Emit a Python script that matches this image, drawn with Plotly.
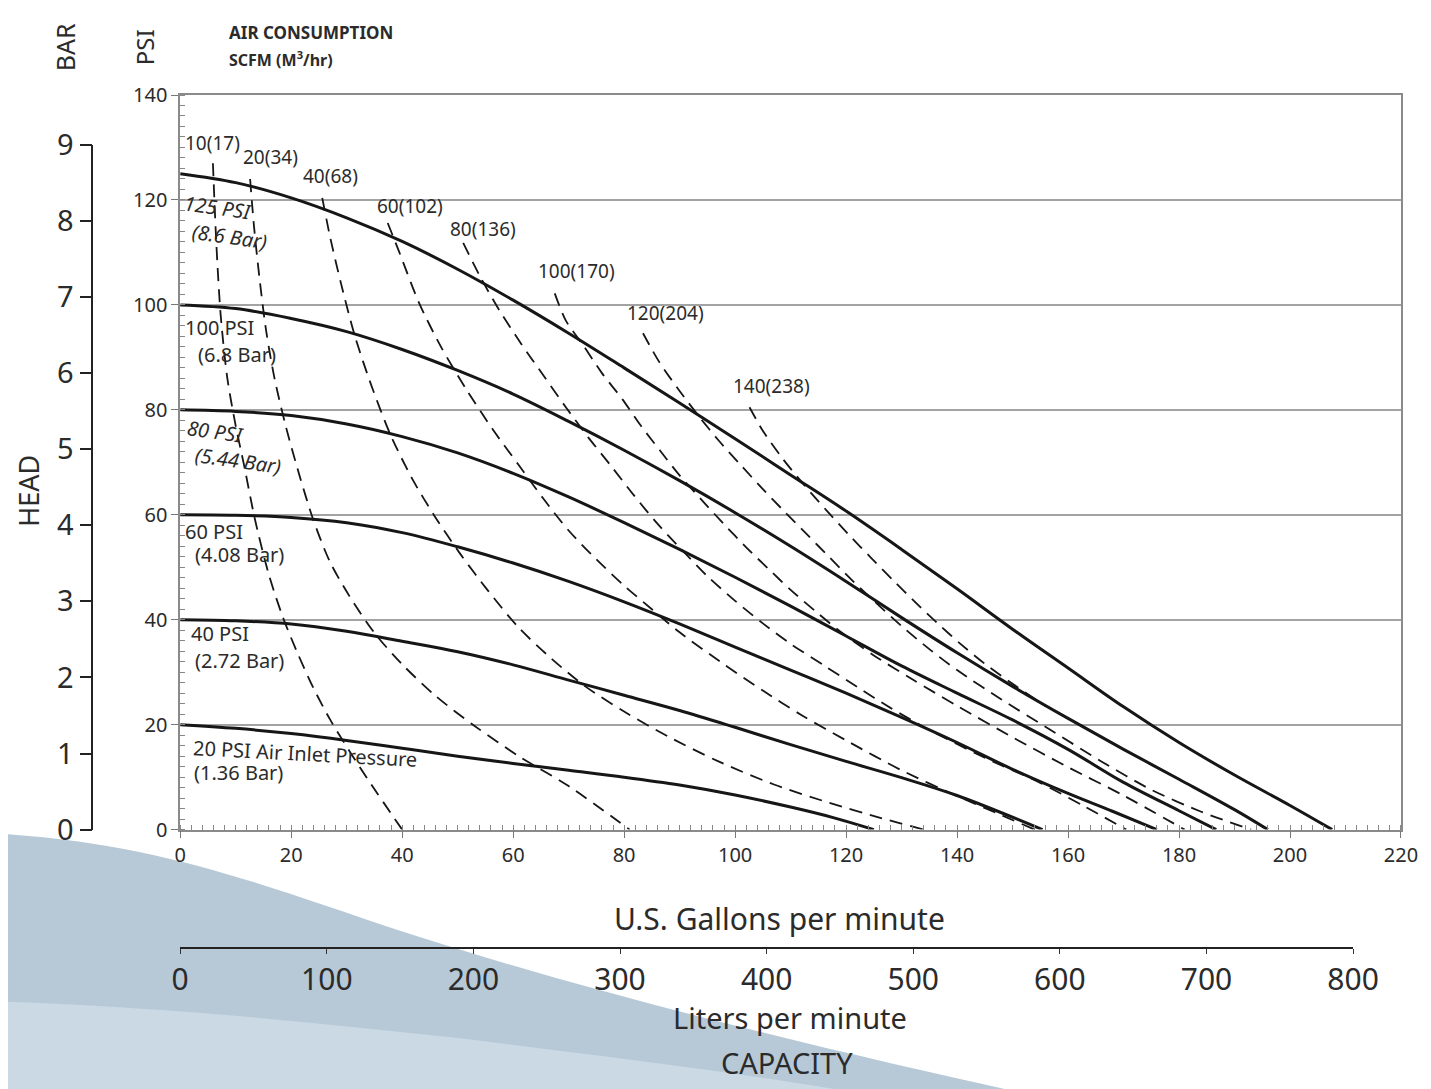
import plotly.graph_objects as go

# ---------------- data ----------------
# Pressure (performance) curves: U.S. gpm vs head in PSI
p125_x = [0, 10, 20, 30, 40, 50, 60, 70, 80, 90, 100, 110, 120, 130, 140, 150, 160, 170, 180, 190, 200, 207.6]
p125_y = [125, 123.3, 120.4, 116.6, 112.1, 106.8, 100.9, 94.6, 88, 81.3, 74.5, 67.6, 60.7, 53.4, 45.9, 38.2, 30.8, 23.4, 16.6, 10.4, 4.6, 0]
p100_x = [0, 10, 20, 30, 40, 50, 60, 70, 80, 90, 100, 110, 120, 130, 140, 150, 160, 170, 180, 190, 196]
p100_y = [100, 99.3, 97.4, 94.9, 91.5, 87.5, 83, 77.8, 72.3, 66.5, 60.4, 54, 47.3, 40.4, 33.7, 27.3, 21.2, 15.3, 9.6, 3.8, 0]
p80_x = [0, 10, 20, 30, 40, 50, 60, 70, 80, 90, 100, 110, 120, 130, 140, 150, 160, 170, 180, 186.7]
p80_y = [80, 79.7, 78.9, 77.3, 74.9, 71.8, 67.9, 63.4, 58.5, 53.4, 48.1, 42.6, 36.9, 31.2, 26, 20.9, 15.3, 9, 3.6, 0]
p60_x = [0, 10, 20, 30, 40, 50, 60, 70, 80, 90, 100, 110, 120, 130, 140, 150, 160, 168, 176]
p60_y = [60, 59.9, 59.5, 58.5, 56.6, 53.9, 50.8, 47.3, 43.4, 39.2, 34.8, 30.4, 26, 21.4, 16.6, 11.5, 6.9, 3.5, 0]
p40_x = [0, 10, 20, 30, 40, 50, 60, 70, 80, 90, 100, 110, 120, 130, 140, 155.4]
p40_y = [40, 39.8, 39.2, 37.8, 35.9, 33.9, 31.4, 28.5, 25.6, 22.7, 19.5, 16.2, 13, 9.9, 6.5, 0]
p20_x = [0, 10, 20, 30, 40, 50, 60, 70, 80, 90, 100, 110, 118, 125]
p20_y = [20, 19.3, 18.3, 17, 15.5, 14, 12.6, 11.3, 10, 8.5, 6.6, 4.3, 2.2, 0]

# Air consumption curves (SCFM)
a10_x = [5.9, 6.5, 7.3, 8.5, 10, 11.5, 13.5, 16, 18.5, 21, 24, 27, 30.6, 34.5, 40]
a10_y = [127, 112, 98, 86, 77, 69.5, 59, 48.5, 40.5, 34, 27, 21, 14.8, 8.5, 0]
a20_x = [12.6, 13.3, 14.3, 15.5, 17, 19, 21.5, 24, 27, 30.5, 35, 40, 46, 53, 61, 70, 81]
a20_y = [124, 115, 105, 95, 86, 77, 67.5, 59, 51, 44.5, 37.5, 31.5, 25.5, 19.8, 14, 8.3, 0]
a40_x = [25.6, 27, 29, 31.5, 34.5, 38, 42, 46, 50.5, 55.5, 61, 67, 73, 80, 88, 97, 107, 117, 126, 134]
a40_y = [120.4, 113, 104, 94, 84.5, 75, 66.5, 59.5, 52.5, 45.5, 38.5, 32.5, 27.3, 22.5, 17.7, 13, 8.6, 5.1, 2.3, 0]
a60_x = [37.4, 39.5, 43, 47, 51.5, 56.5, 61, 65.5, 70, 75, 80, 85, 90, 98, 105, 112, 120, 130, 140, 147, 154]
a60_y = [115.6, 110, 100.5, 92, 84, 76, 69.5, 63, 57, 51.5, 46.5, 42, 37.6, 31.5, 26.5, 21.8, 17, 11.3, 6.4, 3.2, 0]
a80_x = [51, 54, 57.5, 61.5, 65.5, 69.5, 73.5, 77.5, 81.7, 86, 90.5, 95, 100, 105, 110, 116, 122, 128, 135, 145, 155, 163, 170.5]
a80_y = [111.8, 105.5, 99, 92.5, 86.5, 80.5, 74.8, 69.5, 63.8, 58.3, 53.2, 48.3, 43.6, 39.3, 35.4, 31.3, 27.2, 23.2, 19, 13.7, 8.9, 4.4, 0]
a100_x = [67.5, 69.5, 72.5, 76, 79.7, 83, 86.5, 90, 94, 98, 102, 106, 110, 114.5, 119, 125, 132, 140, 150, 160, 170, 181]
a100_y = [102.2, 97, 92.5, 87, 82, 77, 72.2, 67.5, 62.8, 58.2, 53.8, 49.7, 45.7, 41.6, 37.7, 33.2, 28.6, 23.6, 17.6, 11.9, 6.5, 0]
a120_x = [83.4, 86.4, 90, 93.6, 97, 101, 105, 109, 113, 117, 121, 125, 130, 135, 140, 148, 157, 166, 175, 184, 193]
a120_y = [94.6, 89, 83.6, 78.6, 74.2, 69.5, 64.9, 60.5, 56.2, 51.9, 47.6, 43.6, 38.8, 34.4, 30.4, 24.8, 18.9, 13, 7.6, 3.4, 0]
a140_x = [102.6, 105, 108.5, 112.5, 116.5, 120.5, 124.5, 128.5, 132.5, 136.5, 140.5, 145, 150, 156]
a140_y = [80.5, 76, 70.8, 65.6, 60.8, 56.2, 51.8, 47.5, 43.3, 39.3, 35.5, 31.6, 27.8, 23.5]

pressure_curves = [(p125_x, p125_y), (p100_x, p100_y), (p80_x, p80_y),
                   (p60_x, p60_y), (p40_x, p40_y), (p20_x, p20_y)]
air_curves = [(a10_x, a10_y), (a20_x, a20_y), (a40_x, a40_y), (a60_x, a60_y),
              (a80_x, a80_y), (a100_x, a100_y), (a120_x, a120_y), (a140_x, a140_y)]

air_labels = ["10(17)", "20(34)", "40(68)", "60(102)", "80(136)", "100(170)", "120(204)", "140(238)"]
air_label_x = [5.9, 16.2, 27, 41.4, 54.5, 71.5, 87.5, 106.6]
air_label_y = [130.8, 128.2, 124.5, 118.8, 114.4, 106.4, 98.4, 84.5]

psi_labels = ["125 PSI", "(8.6 Bar)", "100 PSI", "(6.8 Bar)", "80 PSI", "(5.44 Bar)",
              "60 PSI", "(4.08 Bar)", "40 PSI", "(2.72 Bar)", "20 PSI Air Inlet Pressure", "(1.36 Bar)"]
psi_label_x = [0.0, 1.4, 0.5, 2.9, 0.5, 2.0, 0.5, 2.3, 1.6, 2.3, 1.8, 2.2]
psi_label_y = [118.6, 113.1, 95.7, 90.6, 75.9, 70.4, 56.9, 52.4, 37.3, 32.3, 14.6, 10.8]
psi_label_angle = [8, 8, 0, 0, 8, 8, 0, 0, 0, 0, 3, 0]
psi_label_italic = [True, True, False, False, True, True, False, False, False, False, False, False]

x_ticks = list(range(0, 221, 20))
y_ticks = list(range(0, 141, 20))
bar_ticks = list(range(0, 10))
lpm_ticks = list(range(0, 801, 100))

# ---------------- layout geometry ----------------
W, H = 1431, 1089
ML, MR, MT, MB = 12, 31, 87, 12
PW, PH = W - ML - MR, H - MT - MB


def fx(xr):
    # reference-picture pixel -> figure pixel (compensates page margin / capture scaling)
    return (xr - 16.8) / 0.9894


def fy(yr):
    return (yr - 9.65) / 0.981


def px(xr):
    return (fx(xr) - ML) / PW


def py(yr):
    return (H - MB - fy(yr)) / PH


FONT = "Noto Sans"
INK = "#161616"
TXT = "#2b2b2b"

fig = go.Figure()

for xs, ys in air_curves:
    fig.add_trace(go.Scatter(x=xs, y=ys, mode="lines", line_shape="spline",
                             line=dict(color=INK, width=1.8, dash="13px,8px", smoothing=0.8),
                             hoverinfo="skip", showlegend=False))
for xs, ys in pressure_curves:
    fig.add_trace(go.Scatter(x=xs, y=ys, mode="lines", line_shape="spline",
                             line=dict(color=INK, width=3, smoothing=1.0),
                             hoverinfo="skip", showlegend=False))

# invisible trace to realise the BAR and Liters-per-minute axes
fig.add_trace(go.Scatter(x=[0, 800], y=[0, 9], xaxis="x2", yaxis="y2", mode="markers",
                         marker=dict(opacity=0), hoverinfo="skip", showlegend=False))

x_dom0 = px(180)
x_dom1 = px(1402)
y_dom0 = py(829)
y_dom1 = py(95)

fig.update_layout(
    width=W, height=H,
    margin=dict(l=ML, r=MR, t=MT, b=MB),
    paper_bgcolor="white", plot_bgcolor="rgba(0,0,0,0)",
    font=dict(family=FONT, color=TXT),
    xaxis=dict(domain=[x_dom0, min(1, x_dom1)], range=[0, 220], tickvals=x_ticks,
               showgrid=False, zeroline=False, showline=True, linecolor="#8a8a8a", linewidth=1.5,
               mirror=True, ticks="outside", ticklen=7, tickcolor="#777", tickwidth=1,
               tickfont=dict(size=20, color=TXT, family=FONT),
               minor=dict(dtick=2, ticks="inside", ticklen=5, tickcolor="#888", showgrid=False)),
    yaxis=dict(domain=[y_dom0, min(1, y_dom1)], range=[0, 140], tickvals=y_ticks,
               showgrid=True, gridcolor="#a3a3a3", gridwidth=1.5, zeroline=False,
               showline=True, linecolor="#8a8a8a", linewidth=1.5, mirror=True,
               ticks="outside", ticklen=7, tickcolor="#777", tickwidth=1,
               tickfont=dict(size=20, color=TXT, family=FONT),
               minor=dict(dtick=2, ticks="inside", ticklen=5, tickcolor="#888", showgrid=False)),
    xaxis2=dict(domain=[x_dom0, px(1354)], range=[0, 800], tickvals=lpm_ticks,
                anchor="free", position=py(947), side="bottom",
                showgrid=False, zeroline=False, showline=True, linecolor="#222", linewidth=2,
                ticks="outside", ticklen=5, tickcolor="#333", tickwidth=1,
                tickfont=dict(size=30, color=TXT, family=FONT)),
    yaxis2=dict(domain=[y_dom0, py(144.6)], range=[0, 9], tickvals=bar_ticks,
                anchor="free", position=px(92), side="left",
                showgrid=False, zeroline=False, showline=True, linecolor="#222", linewidth=1.5,
                ticks="outside", ticklen=12, tickcolor="#222", tickwidth=1.5,
                tickfont=dict(size=29, color=TXT, family=FONT)),
)

# decorative background wave at the bottom-left
dark_path = ("M {a},{b} C {c},{d} {e},{f} {g},{h} C {i},{j} {k},{l} {m},{n} L {o},{p} Z").format(
    a=px(-20), b=py(832), c=px(150), d=py(840), e=px(250), f=py(880), g=px(400), h=py(930),
    i=px(600), j=py(995), k=px(850), l=py(1055), m=px(1060), n=py(1100), o=px(-20), p=py(1100))
light_path = ("M {a},{b} C {c},{d} {e},{f} {g},{h} C {i},{j} {k},{l} {m},{n} L {o},{p} Z").format(
    a=px(-20), b=py(1000), c=px(150), d=py(1005), e=px(300), f=py(1020), g=px(456), h=py(1037),
    i=px(600), j=py(1055), k=px(780), l=py(1076), m=px(900), n=py(1100), o=px(-20), p=py(1100))
fig.add_shape(type="path", path=dark_path, xref="paper", yref="paper",
              fillcolor="#b7c9d7", line=dict(width=0), layer="below")
fig.add_shape(type="path", path=light_path, xref="paper", yref="paper",
              fillcolor="#cad9e4", line=dict(width=0), layer="below")

# air consumption labels
for t, xv, yv in zip(air_labels, air_label_x, air_label_y):
    fig.add_annotation(x=xv, y=yv, xref="x", yref="y", text=t, showarrow=False,
                       font=dict(size=19, color=TXT, family=FONT), xanchor="center", yanchor="middle")

# pressure labels
for t, xv, yv, ang, it in zip(psi_labels, psi_label_x, psi_label_y, psi_label_angle, psi_label_italic):
    fig.add_annotation(x=xv, y=yv, xref="x", yref="y", text=("<i>%s</i>" % t) if it else t,
                       showarrow=False, textangle=ang,
                       font=dict(size=20, color=TXT, family=FONT), xanchor="left", yanchor="middle")


def title(text, xp, yp, size, angle=0, xanchor="center", bold=False):
    fig.add_annotation(x=px(xp), y=py(yp), xref="paper", yref="paper",
                       text=("<b>%s</b>" % text) if bold else text, textangle=angle,
                       showarrow=False, xanchor=xanchor, yanchor="middle",
                       font=dict(size=size, color=TXT, family=FONT))


title("BAR", 65, 47, 25, angle=-90)
title("PSI", 145, 47, 24, angle=-90)
title("HEAD", 28, 490, 27, angle=-90)
title("AIR CONSUMPTION", 227, 33, 17, xanchor="left", bold=True)
title("SCFM (M<sup>3</sup>/hr)", 227, 59, 16, xanchor="left", bold=True)
title("U.S. Gallons per minute", 780, 918, 30)
title("Liters per minute", 790, 1017, 29)
title("CAPACITY", 787, 1062, 29)

fig.write_html("out.html")
